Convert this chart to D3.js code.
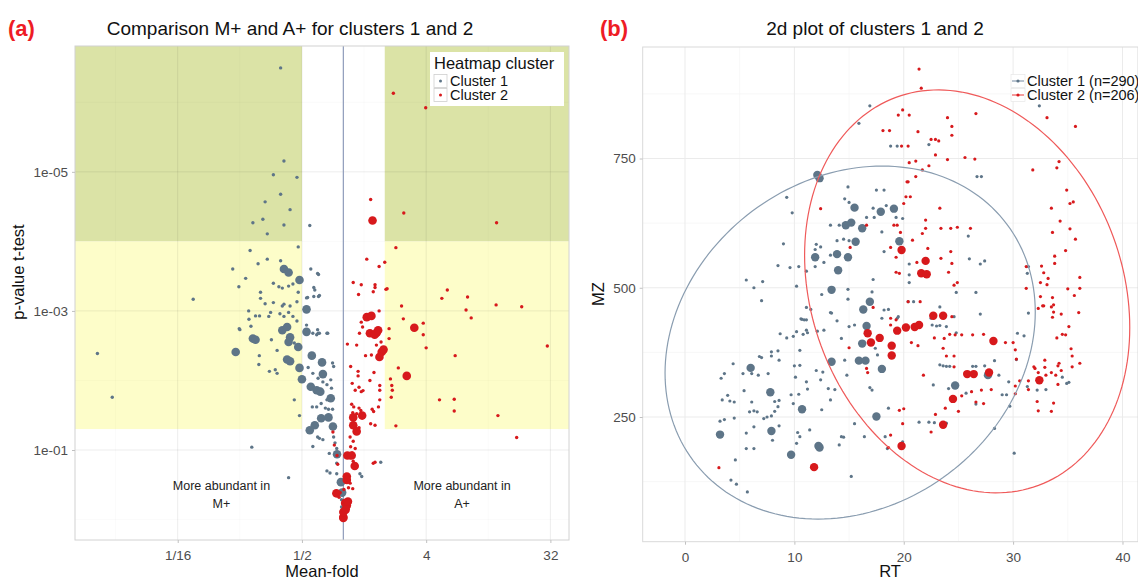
<!DOCTYPE html>
<html><head><meta charset="utf-8">
<script src="https://cdn.jsdelivr.net/npm/d3@7"></script>
<style>body{margin:0;background:#fff;} svg{font-family:"Liberation Sans",Arial,sans-serif;}</style>
</head><body><svg id="c" width="1138" height="581"></svg>
<script>
// ---------------- DATA ----------------
const clusterNames = ["Cluster 1", "Cluster 2"];
const clusterCounts = [290, 206];
const foldTicks = [0.0625, 0.5, 4, 32];
const foldTickLabels = ["1/16", "1/2", "4", "32"];
const pTicks = [1e-5, 1e-3, 1e-1];
const pTickLabels = ["1e-05", "1e-03", "1e-01"];
const foldThresholds = [0.5, 2];
const pThresholds = [1e-4, 0.05];
const rtTicks = [0, 10, 20, 30, 40];
const mzTicks = [250, 500, 750];

// panel (a): [mean-fold, p-value, size(1 small / 2 large)]
const volcanoC1 = [
[0.35,3.2e-7,1],[0.37,7e-6,1],[0.31,1.1e-5,1],[0.46,1.2e-5,1],[0.35,2.1e-5,1],[0.27,2.7e-5,1],[0.41,3.5e-5,1],
[0.22,5.4e-5,1],[0.26,4.8e-5,1],[0.37,5.8e-5,1],[0.28,7.8e-5,1],[0.57,5.9e-5,1],[0.47,1.2e-4,1],[0.21,1.35e-4,1],
[0.28,1.8e-4,1],[0.24,2.1e-4,1],[0.35,1.9e-4,1],[0.157,2.5e-4,1],[0.195,3.4e-4,1],[0.174,4.5e-4,1],[0.081,6.8e-4,1],
[0.58,2.5e-4,1],[0.31,4e-4,1],[0.34,4.5e-4,1],[0.36,4.7e-4,1],[0.40,4.4e-4,1],[0.43,4.1e-4,1],[0.47,5.4e-4,1],
[0.25,5.4e-4,1],[0.25,6.6e-4,1],[0.27,7.9e-4,1],[0.31,7.6e-4,1],[0.36,8.5e-4,1],[0.37,8e-4,1],[0.41,8.5e-4,1],
[0.46,7.4e-4,1],[0.54,6.5e-4,1],[0.55,6.4e-4,1],[0.61,6.2e-4,1],[0.66,6.2e-4,1],[0.61,4.6e-4,1],[0.66,3e-4,1],
[0.205,1e-3,1],[0.206,1.32e-3,1],[0.23,1.18e-3,1],[0.246,1.18e-3,1],[0.213,1.66e-3,1],[0.287,1.2e-3,1],[0.296,1.05e-3,1],
[0.346,1.1e-3,1],[0.37,1.2e-3,1],[0.40,1.05e-3,1],[0.43,1.2e-3,1],[0.46,1.4e-3,1],[0.175,1.8e-3,1],[0.60,2.1e-3,1],
[0.54,1.6e-3,1],[0.0163,4.1e-3,1],[0.0209,0.0174,1],[0.216,0.091,1],[0.40,0.25,1],[0.177,1.86e-3,1],[0.245,4.4e-3,1],
[0.243,5.9e-3,1],[0.29,7.4e-3,1],[0.32,7e-3,1],[0.33,7.9e-3,1],[0.33,3.7e-3,1],[0.30,2.6e-3,1],[0.44,2.9e-3,1],
[0.555,6.5e-3,1],[0.655,2.1e-3,1],[0.77,2.1e-3,1],[0.64,2.2e-3,1],[0.60,7.9e-3,1],[0.655,9.3e-3,1],[0.71,0.0105,1],
[0.76,0.0115,1],[0.81,9.8e-3,1],[0.82,0.0129,1],[0.835,5.6e-3,1],[0.85,6.3e-3,1],[0.595,0.024,1],[0.64,0.024,1],
[0.69,0.0214,1],[0.74,0.025,1],[0.78,0.026,1],[0.835,0.026,1],[0.76,0.019,1],[0.44,0.019,1],[0.48,0.032,1],
[0.85,0.065,1],[0.87,0.079,1],[0.895,0.095,1],[0.79,0.112,1],[0.895,0.155,1],[0.76,0.20,1],[0.80,0.214,1],[0.895,0.22,1],
[0.60,0.089,1],[0.67,0.068,1],[0.71,0.071,1],[0.65,0.065,1],[0.97,0.52,1],[0.97,0.66,1],[1.32,0.22,1],[1.36,0.24,1],
[1.87,0.15,1],[0.65,2.9e-4,1],[0.62,5e-4,1],[0.67,6e-4,1],[0.76,2.1e-3,1],[0.67,2.1e-3,1],[0.65,1.86e-3,1],
[0.37,2.5e-4,2],[0.40,2.8e-4,2],[0.48,3.6e-4,2],[0.54,9.5e-4,2],[0.165,3.9e-3,2],[0.22,2.5e-3,2],[0.23,2.6e-3,2],
[0.36,1.9e-3,2],[0.39,1.7e-3,2],[0.41,2.4e-3,2],[0.40,2.8e-3,2],[0.39,5e-3,2],[0.41,5.3e-3,2],[0.47,3.3e-3,2],
[0.48,6.6e-3,2],[0.50,9.6e-3,2],[0.54,2e-3,2],[0.59,4.4e-3,2],[0.70,5.5e-3,2],[0.71,8.1e-3,2],[0.58,0.0123,2],
[0.64,0.0138,2],[0.68,0.0145,2],[0.81,0.018,2],[0.69,0.035,2],[0.78,0.034,2],[0.62,0.044,2],[0.57,0.052,2],
[0.84,0.046,2],[0.90,0.115,2],[0.96,0.29,2],[0.98,0.41,2]
];
const volcanoC2 = [
[2.31,7.4e-7,1],[3.97,1.2e-6,1],[1.58,2.5e-5,1],[2.75,3.9e-5,1],[13,5.4e-5,1],[2.41,1.23e-4,1],[1.48,1.8e-4,1],
[2.0,2e-4,1],[1.82,2.3e-4,1],[1.18,3.9e-4,1],[1.35,4.2e-4,1],[1.70,4.2e-4,1],[1.70,4.6e-4,1],[1.29,5.8e-4,1],
[1.65,5.3e-4,1],[2.04,4.9e-4,1],[2.08,4.8e-4,1],[5.7,5e-4,1],[5.2,6.6e-4,1],[8.0,6.3e-4,1],[12.9,8.2e-4,1],
[19.8,8.7e-4,1],[7.8,9.7e-4,1],[8.5,1.26e-3,1],[2.65,8.5e-4,1],[1.82,1e-3,1],[2.73,1.3e-3,1],[3.81,1.5e-3,1],
[3.81,2.2e-3,1],[2.15,1.8e-3,1],[2.15,2.5e-3,1],[1.35,1.45e-3,1],[1.31,2.1e-3,1],[1.38,1.7e-3,1],
[4.0,3.4e-3,1],[6.5,4.4e-3,1],[30.4,3.2e-3,1],[2.51,6.6e-3,1],[2.25,0.0118,1],[2.27,0.0138,1],[2.23,0.0174,1],
[2.2,0.0095,1],[5.0,0.019,1],[6.4,0.0186,1],[6.4,0.0275,1],[13.3,0.032,1],[18.2,0.066,1],[2.41,0.045,1],
[1.65,0.155,1],[1.70,0.15,1],[1.45,4.4e-3,1],[1.60,4.3e-3,1],[1.74,3.1e-3,1],[1.88,2.8e-3,1],[1.07,3e-3,1],
[1.25,3.1e-3,1],[1.13,6.3e-3,1],[1.28,7.4e-3,1],[1.28,8.6e-3,1],[1.56,0.01,1],[1.67,7.7e-3,1],[1.84,0.0118,1],
[1.84,0.0138,1],[1.84,0.019,1],[1.16,0.011,1],[1.22,0.0138,1],[1.30,0.0125,1],[1.35,0.0145,1],[1.39,0.014,1],
[1.15,0.022,1],[1.19,0.024,1],[1.30,0.025,1],[1.34,0.027,1],[1.17,0.029,1],[1.25,0.03,1],[1.62,0.026,1],
[1.66,0.028,1],[1.80,0.024,1],[1.58,0.042,1],[1.70,0.044,1],[1.30,0.048,1],[1.12,0.065,1],[1.18,0.075,1],
[1.13,0.09,1],[1.22,0.095,1],[1.16,0.11,1],[1.12,0.13,1],[1.18,0.145,1],[0.95,0.41,1],[1.01,0.37,1],[0.93,0.48,1],
[1.09,0.35,1],[1.17,0.36,1],[0.84,0.055,1],[0.86,0.085,1],[0.90,0.12,1],[0.91,0.16,1],[1.12,0.30,1],[1.06,0.28,1],
[1.63,5e-5,2],[3.28,1.75e-3,2],[1.48,1.23e-3,2],[1.60,1.18e-3,2],[1.56,2.1e-3,2],[1.75,2.05e-3,2],[1.69,2.2e-3,2],
[1.79,1.9e-3,2],[2.89,8.6e-3,2],[1.90,3.9e-3,2],[1.96,3.6e-3,2],[1.83,4.6e-3,2],[1.37,0.032,2],[1.18,0.034,2],
[1.18,0.044,2],[1.25,0.054,2],[1.07,0.12,2],[1.15,0.12,2],[1.21,0.17,2],[1.06,0.24,2],[1.06,0.27,2],[0.89,0.42,2],
[1.03,0.58,2],[1.06,0.63,2],[1.08,0.55,2],[1.0,0.92,2],[1.0,0.95,2],[1.0,0.78,2],[1.04,0.72,2]
];

// panel (b): [RT, MZ, size]
const mapC1 = [
[12.1,718,2],[12.3,712,2],[14.9,695,1],[14.6,672,1],[15.9,818,1],[16.9,852,1],[9.3,675,1],[9.8,645,1],
[15.5,655,2],[15.0,665,1],[13.3,621,1],[14.1,621,1],[14.7,621,2],[15.2,626,2],[16.2,615,2],[15.6,589,2],
[13.9,591,1],[14.5,594,1],[15.0,591,1],[9.0,585,1],[12.0,584,1],[12.4,579,1],[11.9,574,1],
[11.9,559,2],[13.9,565,2],[14.9,559,2],[12.7,549,1],[13.3,563,1],[8.5,543,1],[9.6,539,1],[10.4,541,1],[11.1,532,1],[11.9,541,1],
[14.0,534,2],[5.6,515,1],[6.3,500,1],[7.1,512,1],[10.2,503,1],[13.4,496,2],[12.5,487,1],[14.9,497,1],[14.9,478,1],[7.0,475,1],
[11.1,462,1],[11.5,458,1],[13.3,452,1],[16.3,458,2],[16.9,473,2],[10.6,440,1],[10.9,438,1],
[18.8,774,1],[19.4,774,1],[22.3,777,1],[32.4,852,1],[26.7,715,1],[27.1,715,1],[17.5,689,1],[18.2,689,1],[17.2,654,1],
[18.4,659,1],[17.9,647,2],[19.1,653,2],[16.6,636,1],[17.3,636,1],[19.3,636,1],[19.9,634,1],[18.0,608,1],[19.6,590,2],
[18.2,570,1],[25.9,600,1],[20.5,546,1],[20.5,525,1],[20.5,510,1],[26.0,556,1],[27.0,546,1],[27.4,552,1],[31.4,541,1],
[31.3,528,1],[17.2,516,1],[17.1,492,1],[24.8,491,1],[26.6,491,1],[20.4,473,1],[20.9,473,1],[18.0,441,1],[19.4,441,1],[22.5,441,1],
[16.6,426,2],[16.2,392,2],[15.9,359,2],[16.5,359,2],[13.4,357,2],[18.0,343,2],[6.0,345,2],[7.8,298,2],[7.9,223,2],
[10.7,265,2],[3.2,216,2],[9.7,177,2],[12.2,194,2],[12.3,191,2],[17.5,251,2],[24.7,311,2],[27.7,331,2],
[3.3,325,1],[3.6,334,1],[4.4,353,1],[3.4,283,1],[3.6,245,1],[3.2,242,1],[3.9,292,1],[4.1,281,1],[4.5,279,1],[4.5,248,1],
[5.4,301,1],[5.3,334,1],[6.1,334,1],[6.7,331,1],[7.6,334,1],[6.8,367,1],[7.0,365,1],[7.9,368,1],[8.6,360,1],[8.7,411,1],
[9.3,403,1],[7.9,376,1],[8.5,378,1],[6.1,279,1],[6.6,260,1],[6.3,262,1],[5.9,260,1],[5.6,219,1],[6.3,231,1],[5.6,189,1],
[6.3,189,1],[4.6,167,1],[4.2,128,1],[4.7,120,1],[5.7,105,1],[7.2,247,1],[7.5,250,1],[7.9,252,1],[8.2,261,1],[8.5,270,1],
[8.2,280,1],[8.6,282,1],[8.0,205,1],[8.6,233,1],[9.7,293,1],[10.4,294,1],[9.9,276,1],[10.1,327,1],[10.0,349,1],[10.5,350,1],
[10.5,379,1],[9.9,406,1],[10.2,415,1],[10.7,439,1],[11.1,438,1],[10.8,410,1],[11.1,418,1],[11.2,413,1],[12.1,416,1],
[12.7,418,1],[11.1,318,1],[11.2,304,1],[12.0,340,1],[12.4,322,1],[12.6,337,1],[11.4,225,1],[10.3,220,1],[10.5,212,1],
[10.2,199,1],[12.5,264,1],[13.1,305,1],[13.7,303,1],[13.3,283,1],[13.4,451,1],[13.9,436,1],[14.3,402,1],[15.0,425,1],
[15.5,428,1],[14.6,360,1],[14.8,331,1],[14.3,212,1],[14.5,211,1],[14.1,196,1],[15.2,135,1],[15.5,237,1],[16.4,212,1],
[16.9,307,1],[17.1,302,1],[17.4,383,1],[17.6,370,1],[18.2,457,1],[18.6,458,1],[19.5,444,1],[18.6,267,1],[18.3,212,1],
[18.5,189,1],[19.9,202,1],[21.4,240,1],[22.3,240,1],[22.6,428,1],[23.0,426,1],[23.3,427,1],[23.9,425,1],[24.6,444,1],
[24.8,413,1],[23.3,463,1],[23.9,238,1],[22.8,239,1],[23.3,351,1],[23.6,349,1],[23.9,348,1],[24.2,348,1],[22.7,312,1],
[24.1,305,1],[25.7,296,1],[26.6,275,1],[26.3,348,1],[26.6,348,1],[27.4,349,1],[28.3,228,1],[28.7,331,1],[28.3,359,1],
[27.0,449,1],[29.0,293,1],[29.4,293,1],[29.7,271,1],[29.6,318,1],[30.1,180,1],[30.3,361,1],[30.4,412,1],[31.0,407,1],
[31.3,309,1],[32.2,302,1],[31.4,451,1],[34.5,327,1],[34.9,315,1],[33.0,303,1],[35.1,317,1]
];
const mapC2 = [
[12.4,653,1],[16.6,621,1],[15.1,578,1],[21.4,923,1],[21.6,886,1],[19.9,844,1],[19.5,834,1],[20.5,834,1],[18.1,804,1],
[18.7,804,1],[21.3,802,1],[24.0,829,1],[24.4,812,1],[24.4,795,1],[26.6,837,1],[33.1,829,1],[35.7,812,1],[22.5,787,1],
[22.9,787,1],[23.2,784,1],[20.4,774,1],[19.8,774,1],[22.9,757,1],[24.0,748,1],[25.6,752,1],[26.5,749,1],[20.5,742,1],
[21.1,745,1],[21.7,728,1],[22.3,736,1],[21.1,715,1],[20.4,705,1],[31.8,728,1],[34.0,732,1],[34.2,744,1],[34.9,689,1],
[35.2,663,1],[35.5,666,1],[33.5,654,1],[34.3,629,1],[35.2,614,1],[35.7,594,1],[33.6,607,1],[34.8,572,1],[33.8,561,1],
[33.8,547,1],[36.1,520,1],[36.1,499,1],[35.0,498,1],[35.6,485,1],[31.2,541,1],[31.2,499,1],[32.6,542,1],[32.8,529,1],
[32.5,510,1],[33.2,518,1],[33.1,506,1],[32.5,483,1],[33.6,481,1],[32.7,465,1],[33.5,463,1],[20.2,676,1],[20.6,676,1],
[20.0,663,1],[20.3,705,1],[23.3,654,1],[22.0,631,1],[19.1,621,1],[19.4,621,1],[23.4,615,1],[24.3,615,1],[24.9,617,1],
[26.1,615,1],[19.7,607,1],[21.7,605,1],[22.0,615,1],[20.8,592,1],[18.8,578,1],[19.8,573,2],[22.2,576,1],[19.3,559,1],
[23.4,557,1],[24.3,570,1],[22.0,552,2],[21.2,549,1],[21.6,528,2],[22.1,526,2],[19.3,530,1],[19.6,528,1],[24.1,530,1],
[24.4,547,1],[24.9,510,1],[24.6,505,1],[20.4,473,1],[21.5,473,1],[22.7,446,2],[23.6,446,2],[18.8,441,1],[24.4,444,1],
[19.4,417,2],[20.2,423,2],[21.0,424,2],[21.4,428,2],[16.7,412,2],[17.0,394,2],[17.8,403,2],[18.9,388,2],[18.9,369,2],
[28.2,397,2],[25.8,333,2],[26.4,333,2],[27.8,336,2],[32.4,321,2],[24.5,285,2],[23.6,235,2],[19.8,194,2],[11.8,153,2],
[3.1,152,1],[15.0,384,1],[16.6,344,1],[16.7,336,1],[17.2,462,1],[18.8,428,1],[19.3,438,1],[20.7,394,1],[21.3,388,1],
[21.8,331,1],[19.6,263,1],[20.0,266,1],[19.9,237,1],[18.8,215,1],[18.6,191,1],[22.5,221,1],[22.9,255,1],[23.8,267,1],
[25.0,261,1],[25.3,291,1],[26.2,299,1],[26.6,279,1],[27.3,276,1],[22.8,403,1],[23.7,402,1],[24.2,410,1],[24.7,409,1],
[25.3,409,1],[23.6,383,1],[23.9,368,1],[24.6,368,1],[24.6,347,1],[26.3,409,1],[27.3,410,1],[27.1,302,1],[28.0,303,1],
[29.3,394,1],[30.0,394,1],[30.2,380,1],[30.3,362,1],[30.2,310,1],[30.6,320,1],[31.4,320,1],[31.4,303,1],[30.2,295,1],
[31.9,347,1],[32.0,344,1],[32.3,336,1],[32.9,360,1],[32.9,346,1],[32.2,280,1],[32.3,262,1],[33.5,261,1],[33.7,277,1],
[32.3,460,1],[32.8,465,1],[33.7,467,1],[33.7,453,1],[33.6,443,1],[34.4,449,1],[36.0,452,1],[34.0,403,1],[34.5,410,1],
[34.8,409,1],[35.1,425,1],[35.3,382,1],[35.4,368,1],[35.4,347,1],[36.1,354,1],[34.2,354,1],[34.1,349,1],[34.4,340,1],
[33.9,331,1],[34.1,313,1],[33.5,336,1],[33.0,331,1]
];
// ellipses: centre [RT, MZ] and shape [varRT, varMZ, cov]
const ellipseCentres = [[15.1, 394], [25.8, 493]];
const ellipseShapes = [[286.5, 116547, 1000], [221, 151870, -1039]];

// ---------------- STYLE ----------------
const colC = ["#5e7588", "#d7191c"];
const colEll = ["#8a9db0", "#ef5a5a"];
const svg = d3.select("#c");
const tickCol = "#4d4d4d";

// ---------------- PANEL (a) ----------------
const A = {x0: 75, x1: 569, y0: 46, y1: 540};
const xA = d3.scaleLog().base(2).domain([0.0112, 43.7]).range([A.x0, A.x1]);
const yA = d3.scaleLog().domain([1.55e-7, 1.97]).range([A.y0, A.y1]);
const defs = svg.append("defs");
defs.append("clipPath").attr("id", "clipA").append("rect").attr("x", A.x0).attr("y", A.y0).attr("width", A.x1 - A.x0).attr("height", A.y1 - A.y0);
const gA = svg.append("g");
const gAc = gA.append("g").attr("clip-path", "url(#clipA)");
// shaded regions
const xMin = xA.domain()[0], xMax = xA.domain()[1], yMin = yA.domain()[0];
const regions = [
  {x0: xMin, x1: foldThresholds[0], y0: yMin, y1: pThresholds[0], c: "#dbe3a6"},
  {x0: foldThresholds[1], x1: xMax, y0: yMin, y1: pThresholds[0], c: "#dbe3a6"},
  {x0: xMin, x1: foldThresholds[0], y0: pThresholds[0], y1: pThresholds[1], c: "#fdfdc9"},
  {x0: foldThresholds[1], x1: xMax, y0: pThresholds[0], y1: pThresholds[1], c: "#fdfdc9"}
];
gAc.selectAll("rect.reg").data(regions).join("rect")
  .attr("x", d => xA(d.x0)).attr("width", d => xA(d.x1) - xA(d.x0))
  .attr("y", d => yA(d.y0)).attr("height", d => yA(d.y1) - yA(d.y0)).attr("fill", d => d.c);
// grid
const foldMinor = [2 ** -5.5, 2 ** -2.5, 2 ** 0.5, 2 ** 3.5];
const pMinor = [1e-6, 1e-4, 1e-2, 1];
gAc.selectAll("line.vmin").data(foldMinor).join("line").attr("x1", xA).attr("x2", xA).attr("y1", A.y0).attr("y2", A.y1).attr("stroke", "rgba(0,0,0,0.04)").attr("stroke-width", 0.6);
gAc.selectAll("line.hmin").data(pMinor).join("line").attr("y1", yA).attr("y2", yA).attr("x1", A.x0).attr("x2", A.x1).attr("stroke", "rgba(0,0,0,0.04)").attr("stroke-width", 0.6);
gAc.selectAll("line.vmaj").data(foldTicks).join("line").attr("x1", xA).attr("x2", xA).attr("y1", A.y0).attr("y2", A.y1).attr("stroke", "rgba(0,0,0,0.075)").attr("stroke-width", 1);
gAc.selectAll("line.hmaj").data(pTicks).join("line").attr("y1", yA).attr("y2", yA).attr("x1", A.x0).attr("x2", A.x1).attr("stroke", "rgba(0,0,0,0.075)").attr("stroke-width", 1);
// vertical fold=1 line
gAc.append("line").attr("x1", xA(1)).attr("x2", xA(1)).attr("y1", A.y0).attr("y2", A.y1).attr("stroke", "#8f9cba").attr("stroke-width", 1.2);
// points
[volcanoC1, volcanoC2].forEach((arr, ci) => {
  gAc.append("g").selectAll("circle").data(arr).join("circle")
    .attr("cx", d => xA(d[0])).attr("cy", d => yA(d[1])).attr("r", d => d[2] === 2 ? 4.3 : 1.7)
    .attr("fill", colC[ci]);
});
// annotations
const ann = gA.append("g").attr("font-size", 12.5).attr("fill", "#222").attr("text-anchor", "middle");
[[0.13, "M+"], [7.3, "A+"]].forEach(([f, t]) => {
  ann.append("text").attr("x", xA(f)).attr("y", 490).text("More abundant in");
  ann.append("text").attr("x", xA(f)).attr("y", 508).text(t);
});
// border
gA.append("rect").attr("x", A.x0).attr("y", A.y0).attr("width", A.x1 - A.x0).attr("height", A.y1 - A.y0).attr("fill", "none").attr("stroke", "#d2d2d2");
// axes
const axA = gA.append("g").attr("transform", `translate(0,${A.y1})`).call(d3.axisBottom(xA).tickValues(foldTicks).tickFormat((d, i) => foldTickLabels[i]).tickSize(3).tickPadding(4));
const ayA = gA.append("g").attr("transform", `translate(${A.x0},0)`).call(d3.axisLeft(yA).tickValues(pTicks).tickFormat((d, i) => pTickLabels[i]).tickSize(3).tickPadding(4));
[axA, ayA].forEach(a => { a.select(".domain").remove(); a.selectAll("line").attr("stroke", "#c0c0c0"); a.selectAll("text").attr("fill", tickCol).attr("font-size", 13.5).attr("font-family", "Liberation Sans, Arial, sans-serif"); });
axA.selectAll("text").attr("dy", "0.95em");
// titles
svg.append("text").attr("x", 8).attr("y", 36).attr("font-size", 22).attr("font-weight", "bold").attr("fill", "#ee1c25").text("(a)");
svg.append("text").attr("x", 290).attr("y", 35).attr("text-anchor", "middle").attr("font-size", 19).attr("fill", "#111").text("Comparison M+ and A+ for clusters 1 and 2");
svg.append("text").attr("x", 322).attr("y", 577).attr("text-anchor", "middle").attr("font-size", 16.5).attr("fill", "#111").text("Mean-fold");
svg.append("text").attr("transform", "translate(24,272) rotate(-90)").attr("text-anchor", "middle").attr("font-size", 16.5).attr("fill", "#111").text("p-value t-test");
// legend (a)
const lgA = svg.append("g");
lgA.append("rect").attr("x", 430).attr("y", 52).attr("width", 134).attr("height", 54).attr("fill", "#fff");
lgA.append("text").attr("x", 434).attr("y", 69).attr("font-size", 16.5).attr("fill", "#111").text("Heatmap cluster");
clusterNames.forEach((n, i) => {
  const y = 81 + i * 14;
  lgA.append("rect").attr("x", 434).attr("y", y - 6.5).attr("width", 13).attr("height", 13).attr("fill", "#fff").attr("stroke", "#cfcfcf").attr("stroke-width", 0.8);
  lgA.append("circle").attr("cx", 440.5).attr("cy", y).attr("r", 1.5).attr("fill", colC[i]);
  lgA.append("text").attr("x", 450).attr("y", y + 5).attr("font-size", 14.5).attr("fill", "#111").text(n);
});

// ---------------- PANEL (b) ----------------
const B = {x0: 642.7, x1: 1138, y0: 47, y1: 541.7};
const xB = d3.scaleLinear().domain([-3.87, 41.42]).range([B.x0, B.x1]);
const yB = d3.scaleLinear().domain([8.8, 965.7]).range([B.y1, B.y0]);
defs.append("clipPath").attr("id", "clipB").append("rect").attr("x", B.x0).attr("y", B.y0).attr("width", B.x1 - B.x0).attr("height", B.y1 - B.y0);
const gB = svg.append("g");
const gBc = gB.append("g").attr("clip-path", "url(#clipB)");
const rtMinor = [-5, 5, 15, 25, 35];
const mzMinor = [125, 375, 625, 875];
gBc.selectAll("line.vmin").data(rtMinor).join("line").attr("x1", xB).attr("x2", xB).attr("y1", B.y0).attr("y2", B.y1).attr("stroke", "#f3f3f3").attr("stroke-width", 0.7);
gBc.selectAll("line.hmin").data(mzMinor).join("line").attr("y1", yB).attr("y2", yB).attr("x1", B.x0).attr("x2", B.x1).attr("stroke", "#f3f3f3").attr("stroke-width", 0.7);
gBc.selectAll("line.vmaj").data(rtTicks).join("line").attr("x1", xB).attr("x2", xB).attr("y1", B.y0).attr("y2", B.y1).attr("stroke", "#ebebeb").attr("stroke-width", 1);
gBc.selectAll("line.hmaj").data(mzTicks).join("line").attr("y1", yB).attr("y2", yB).attr("x1", B.x0).attr("x2", B.x1).attr("stroke", "#ebebeb").attr("stroke-width", 1);
// points
[mapC1, mapC2].forEach((arr, ci) => {
  gBc.append("g").selectAll("circle").data(arr).join("circle")
    .attr("cx", d => xB(d[0])).attr("cy", d => yB(d[1])).attr("r", d => d[2] === 2 ? 4.2 : 1.6)
    .attr("fill", colC[ci]);
});
// ellipses
ellipseCentres.forEach((c, i) => {
  const [sxx, syy, sxy] = ellipseShapes[i];
  const l11 = Math.sqrt(sxx), l21 = sxy / l11, l22 = Math.sqrt(syy - l21 * l21);
  const pts = d3.range(0, 2 * Math.PI + 0.001, Math.PI / 90).map(t => {
    const u = Math.cos(t), v = Math.sin(t);
    return [c[0] + l11 * u, c[1] + l21 * u + l22 * v];
  });
  gBc.append("path").attr("d", d3.line().x(d => xB(d[0])).y(d => yB(d[1]))(pts))
    .attr("fill", "none").attr("stroke", colEll[i]).attr("stroke-width", 1.2);
});
gB.append("rect").attr("x", B.x0).attr("y", B.y0).attr("width", B.x1 - B.x0).attr("height", B.y1 - B.y0).attr("fill", "none").attr("stroke", "#d9d9d9");
const axB = gB.append("g").attr("transform", `translate(0,${B.y1})`).call(d3.axisBottom(xB).tickValues(rtTicks).tickSize(3).tickPadding(4));
const ayB = gB.append("g").attr("transform", `translate(${B.x0},0)`).call(d3.axisLeft(yB).tickValues(mzTicks).tickSize(3).tickPadding(4));
[axB, ayB].forEach(a => { a.select(".domain").remove(); a.selectAll("line").attr("stroke", "#c0c0c0"); a.selectAll("text").attr("fill", tickCol).attr("font-size", 13.5).attr("font-family", "Liberation Sans, Arial, sans-serif"); });
axB.selectAll("text").attr("dy", "0.95em");
svg.append("text").attr("x", 600).attr("y", 36).attr("font-size", 22).attr("font-weight", "bold").attr("fill", "#ee1c25").text("(b)");
svg.append("text").attr("x", 875).attr("y", 35).attr("text-anchor", "middle").attr("font-size", 19).attr("fill", "#111").text("2d plot of clusters 1 and 2");
svg.append("text").attr("x", 890).attr("y", 577).attr("text-anchor", "middle").attr("font-size", 16.5).attr("fill", "#111").text("RT");
svg.append("text").attr("transform", "translate(604,294) rotate(-90)").attr("text-anchor", "middle").attr("font-size", 16.5).attr("fill", "#111").text("MZ");
// legend (b)
const lgB = svg.append("g");
clusterNames.forEach((n, i) => {
  const y = 81 + i * 14;
  lgB.append("rect").attr("x", 1011).attr("y", y - 6.5).attr("width", 14).attr("height", 13).attr("fill", "#fff").attr("stroke", "#e3e3e3").attr("stroke-width", 0.6);
  lgB.append("line").attr("x1", 1012).attr("x2", 1024).attr("y1", y).attr("y2", y).attr("stroke", colEll[i]).attr("stroke-width", 1.2);
  lgB.append("circle").attr("cx", 1018).attr("cy", y).attr("r", 1.6).attr("fill", colC[i]);
  lgB.append("text").attr("x", 1027).attr("y", y + 5).attr("font-size", 14.5).attr("fill", "#111").text(`${n} (n=${clusterCounts[i]})`);
});
</script></body></html>
